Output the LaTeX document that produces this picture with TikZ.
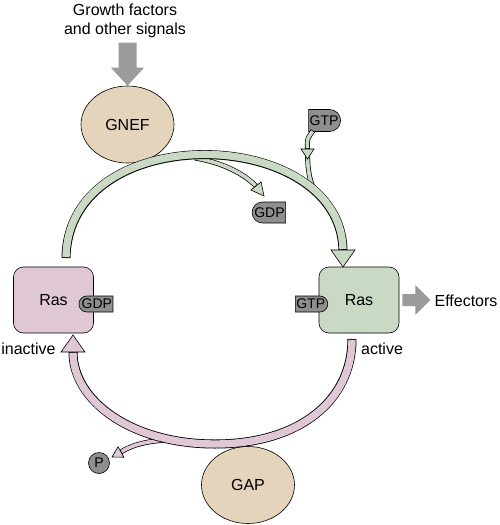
\documentclass[tikz,border=0pt]{standalone}
\usepackage{fontspec}
\setmainfont{Liberation Sans}
\usepackage{xcolor}
\usepackage{tikz}
\usetikzlibrary{arrows,calc,positioning,shapes.geometric,shapes.misc}

\definecolor{grn}{HTML}{C9D9C3}
\definecolor{pnk}{HTML}{DFC7D6}
\definecolor{enzc}{HTML}{E4D4BB}
\definecolor{tagc}{HTML}{8E8E8E}
\definecolor{arrc}{HTML}{9B9B9B}

\newcommand{\lblfont}{\fontsize{16}{18.3}\selectfont}
\newcommand{\tagfont}{\fontsize{14}{16}\selectfont}
% open head: base, tip, half width
\newcommand{\ahead}[4][grn]{\draw[fill=#1] (#3) -- ($(#2)!#4!90:(#3)$) -- ($(#2)!#4!-90:(#3)$) -- cycle;}

\begin{document}
\begin{tikzpicture}[x=1pt,y=-1pt,semithick]
	\tikzstyle{ras}=[rectangle, draw, rounded corners=10pt, minimum width=80pt, minimum height=66pt, font=\lblfont]
	\tikzstyle{enz}=[ellipse, draw, fill=enzc, minimum width=93pt, minimum height=77pt, font=\lblfont]
	\tikzstyle{gdptag}=[rounded rectangle, rounded rectangle right arc=none, draw, fill=tagc, inner xsep=1pt, inner ysep=0pt, minimum height=16pt, font=\tagfont]
	\tikzstyle{gtptag}=[rounded rectangle, rounded rectangle left arc=none, draw, fill=tagc, inner xsep=1pt, inner ysep=0pt, minimum height=16pt, font=\tagfont]
	\tikzstyle{gband}=[line width=9pt, draw=black, postaction={draw=grn, line width=7.4pt, shorten <=0.8pt, shorten >=0.8pt}]
	\tikzstyle{pband}=[line width=9pt, draw=black, postaction={draw=pnk, line width=7.4pt, shorten <=0.8pt, shorten >=0.8pt}]
	\tikzstyle{gthin}=[line width=5pt, draw=black, postaction={draw=grn, line width=3.6pt, shorten <=0.7pt, shorten >=0.7pt}]
	\tikzstyle{pthin}=[line width=5pt, draw=black, postaction={draw=pnk, line width=3.6pt, shorten <=0.7pt, shorten >=0.7pt}]
	\useasboundingbox (0,0) rectangle (500,525);

		\node[align=center, font=\lblfont] (sig) at (125,21) {Growth factors\\and other signals};
		\node[enz] (gnef) at (127.5,124.5) {GNEF};
		\node[enz] (gap) at (248,485) {GAP};
		\node[ras, fill=pnk] (rasi) at (53.5,300) {Ras};
		\node[ras, fill=grn] (rasa) at (359,300) {Ras};
		\node[gdptag] (gdpi) at ($(rasi.east)+(3,4)$) {GDP};
		\node[gtptag] (gtpa) at ($(rasa.west)+(-8,4)$) {GTP};
		\node[gdptag, minimum height=21pt] (gdp) at (269.5,212.5) {GDP};
		\node[gtptag, minimum height=22pt] (gtp) at (324,120.5) {GTP};
		\node[circle, draw, fill=tagc, inner sep=0pt, minimum size=21pt, font=\tagfont] (p) at (99,463) {P};
		\node[font=\lblfont] (inact) at (28.5,349) {inactive};
		\node[font=\lblfont] (act) at (382,349) {active};
		\node[font=\lblfont] (eff) at (466,301) {Effectors};

	% block arrows
	\fill[arrc] (gnef.north) -- ++(-16.5,-18) -- ++(7.5,0) -- ++(0,-25) -- ++(18,0) -- ++(0,25) -- ++(7.5,0) -- cycle;
	\fill[arrc] ($(rasa.east)+(3,-6)$) -- ++(13,0) -- ++(0,-9) -- ++(15,15) -- ++(-15,15) -- ++(0,-9) -- ++(-13,0) -- cycle;

	\coordinate (gstart) at (66,258);
	\coordinate (gbase) at (343,250);
	\coordinate (gtip) at (343,267);
	\coordinate (pstart) at (352,339);
	\coordinate (pbot) at (215,444);
	\coordinate (pbase) at (73,352);
	\coordinate (ptip) at (73,335);

	% side branches
	\coordinate (gdpout) at (195,158);
	\coordinate (gdpbase) at (256,186);
	\coordinate (gdptip) at (264,196);
	\draw[gthin] (gdpout) .. controls (225,163) and (245,175) .. (gdpbase);
	\coordinate (gtpbase) at (307.5,149);
	\coordinate (gtptip) at (307.5,159);
	\coordinate (gjoin) at (322,200);
	\draw[gthin] ($(gtp.south)+(-11,-1)$) .. controls (307,139) .. (gtpbase);
	\draw[gthin] (307.5,155) .. controls (308,182) and (314,192) .. (gjoin);
	\coordinate (pout) at (168,440);
	\coordinate (pbase2) at (121,452);
	\coordinate (ptip2) at (112,457);
	\draw[pthin] (pout) .. controls (145,441) and (130,446) .. (pbase2);

	% the cycle
	\draw[gband] (gstart) .. controls (68,118) and (340,125) .. (gbase);
	\draw[pband] (pstart) .. controls (352,400) and (300,444) .. (pbot) .. controls (130,444) and (73,400) .. (pbase);

	\ahead{gbase}{gtip}{12pt}
	\ahead[pnk]{pbase}{ptip}{12pt}
	\ahead{gdpbase}{gdptip}{6.5pt}
	\ahead{gtpbase}{gtptip}{6.5pt}
	\ahead[pnk]{pbase2}{ptip2}{6pt}
\end{tikzpicture}
\end{document}
